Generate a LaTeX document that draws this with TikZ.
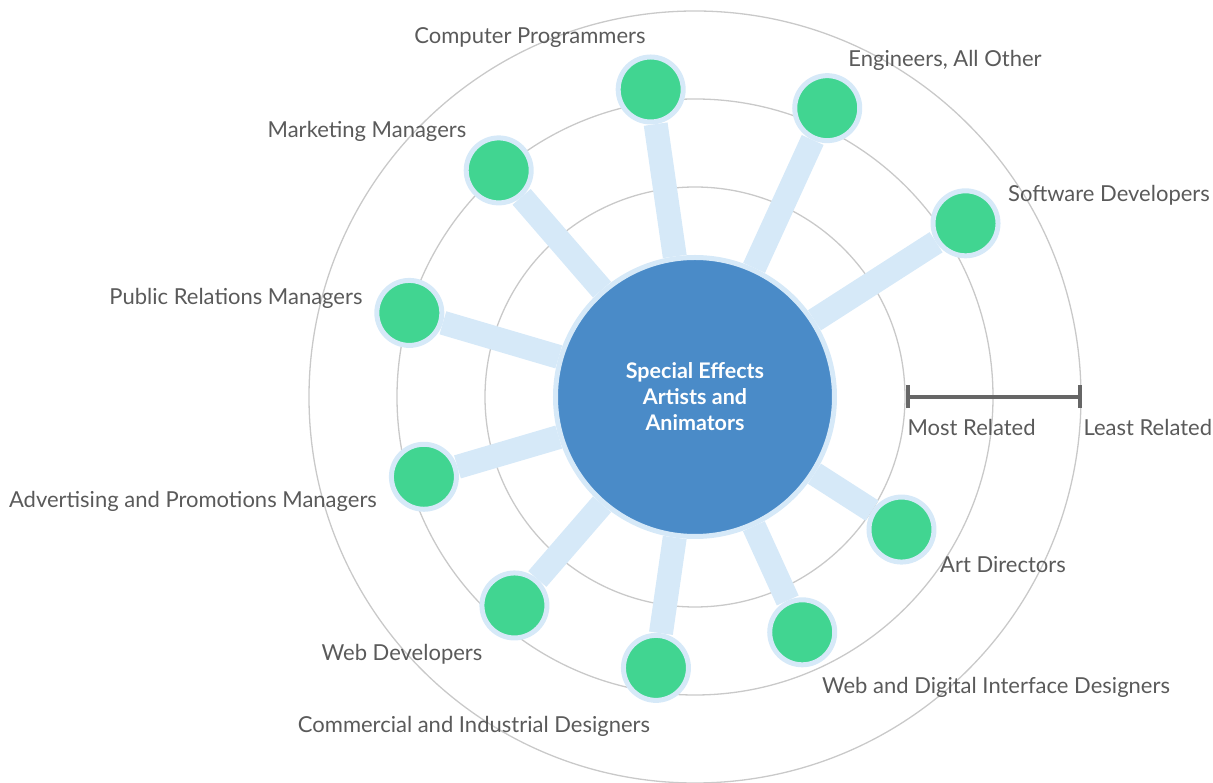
\documentclass[tikz,border=0pt]{standalone}
\usepackage{fontspec}
\setmainfont{Lato}
\usetikzlibrary{arrows.meta,backgrounds}
\definecolor{ringgray}{HTML}{C9C9C9}
\definecolor{spokeblue}{HTML}{D6E9F8}
\definecolor{jobgreen}{HTML}{41D591}
\definecolor{hubblue}{HTML}{4A8BC8}
\definecolor{labelgray}{HTML}{5A5A5A}
\definecolor{bargray}{HTML}{666666}
\begin{document}
\begin{tikzpicture}[x=1pt,y=1pt,
    hub/.style={circle,fill=hubblue,draw=spokeblue,line width=5pt,minimum size=279pt,
      inner sep=0pt,align=center,text=white,font=\fontsize{21.5}{26}\selectfont\bfseries},
    job/.style={circle,fill=jobgreen,draw=spokeblue,line width=5pt,minimum size=65pt,inner sep=0pt},
    tag/.style={text=labelgray,font=\fontsize{22}{24}\selectfont},
    ring/.style={draw=ringgray,line width=1.3pt},
    spoke/.style={draw=spokeblue,line width=24pt},
    scalebar/.style={draw=bargray,line width=4pt,{Bar[width=23pt,line width=4pt]}-{Bar[width=23pt,line width=4pt]}}]
  \useasboundingbox (-695,-386) rectangle (518,397);
  \node[hub] (c) at (0,0) {Special Effects\\Artists and\\Animators};
  \draw
    (32.7:321.5) node[job] (sd){}
    (65.4:317.7) node[job] (eng){}
    (98.2:310.7) node[job] (cp){}
    (130.9:299.8) node[job] (mm){}
    (163.6:297.8) node[job] (pr){}
    (196.4:282.6) node[job] (ap){}
    (229.1:275.8) node[job] (wd){}
    (261.8:273.7) node[job] (cid){}
    (294.5:258.6) node[job] (wdid){}
    (327.3:245.4) node[job] (ad){};
  \begin{pgfonlayer}{background}
    \foreach \r in {210,298,386}
      \draw[ring] (c.center) circle (\r);
    \foreach \j in {sd,eng,cp,mm,pr,ap,wd,cid,wdid,ad}
      \draw[spoke] (c) -- (\j);
  \end{pgfonlayer}
  % job titles
  \node[tag] (sdl) at (414,202) {Software Developers};
  \node[tag] (engl) at (250,337) {Engineers, All Other};
  \node[tag] (cpl) at (-165,359) {Computer Programmers};
  \node[tag] (mml) at (-328,266) {Marketing Managers};
  \node[tag] (prl) at (-459,99) {Public Relations Managers};
  \node[tag] (apl) at (-502,-104) {Advertising and Promotions Managers};
  \node[tag] (wdl) at (-293,-257) {Web Developers};
  \node[tag] (cidl) at (-221,-329) {Commercial and Industrial Designers};
  \node[tag] (wdidl) at (301,-290) {Web and Digital Interface Designers};
  \node[tag] (adl) at (308,-168) {Art Directors};
  % scale
  \coordinate (most) at (211,0);
  \coordinate (least) at (387,0);
  \draw[scalebar] (most) -- (least);
  \node[tag,anchor=west] (mostl) at (209,-30) {Most Related};
  \node[tag,anchor=west] (leastl) at (385,-30) {Least Related};
\end{tikzpicture}
\end{document}
